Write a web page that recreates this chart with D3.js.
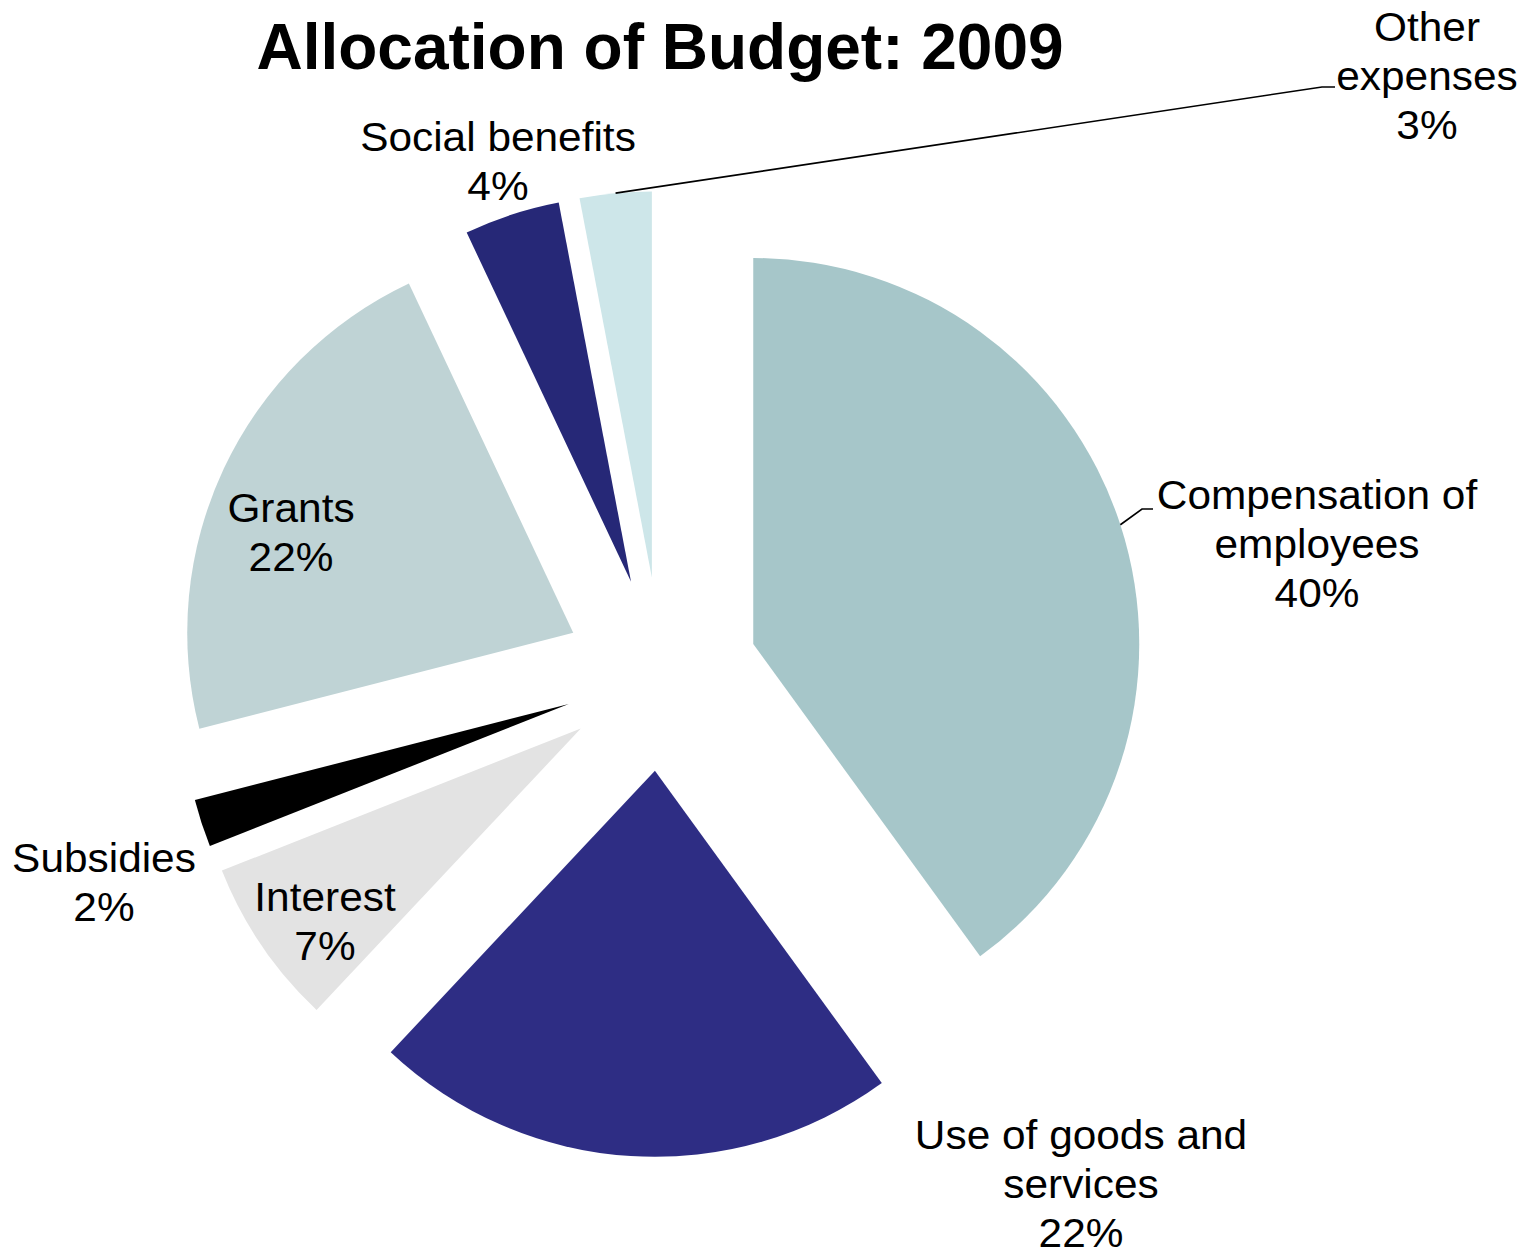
<!DOCTYPE html>
<html>
<head>
<meta charset="utf-8">
<script src="https://cdn.jsdelivr.net/npm/d3@7"></script>
<style>
  html, body { margin: 0; padding: 0; background: #fff; }
  svg { display: block; }
  text { font-family: "Liberation Sans", Arial, sans-serif; fill: #000; }
</style>
</head>
<body>
<svg id="chart" width="1538" height="1251"></svg>
<script>
// Budget shares, 2009 (percent), in clockwise order from 12 o'clock
const categories = [
  "Compensation of employees",
  "Use of goods and services",
  "Interest",
  "Subsidies",
  "Grants",
  "Social benefits",
  "Other expenses"
];
const shares = [40, 22, 7, 2, 22, 4, 3];
const sliceColors = ["#a6c6c9", "#2e2d84", "#e3e3e3", "#000000", "#bfd3d5", "#262877", "#cde6e9"];

// Label text broken into lines
const labelLines = [
  ["Compensation of", "employees"],
  ["Use of goods and", "services"],
  ["Interest"],
  ["Subsidies"],
  ["Grants"],
  ["Social benefits"],
  ["Other", "expenses"]
];

// Label placement: centre x and first-line baseline; optional leader elbow/end
const labelLayout = [
  { x: 1317, y: 509, leader: [[1142, 509], [1153, 509]] },
  { x: 1081, y: 1149 },
  { x: 325,  y: 911 },
  { x: 104,  y: 872 },
  { x: 291,  y: 522 },
  { x: 498,  y: 151 },
  { x: 1427, y: 41,  leader: [[1322, 87], [1335, 87]] }
];

const cx = 661, cy = 674, radius = 386, explode = 97;
const lineH = 49;
const labelStretch = 1.06;

const svg = d3.select("#chart");

svg.append("text")
  .attr("x", 660)
  .attr("y", 69)
  .attr("text-anchor", "middle")
  .style("font-size", "64px")
  .style("font-weight", "bold")
  .text("Allocation of Budget: 2009");

const pie = d3.pie().sort(null).value(d => d.value);
const arc = d3.arc().innerRadius(0).outerRadius(radius);

const data = categories.map((c, i) => ({ name: c, value: shares[i], color: sliceColors[i] }));
const arcs = pie(data);

const g = svg.append("g").attr("transform", `translate(${cx},${cy})`);

function offset(a) {
  const mid = (a.startAngle + a.endAngle) / 2;
  return [Math.sin(mid) * explode, -Math.cos(mid) * explode];
}

g.selectAll("path.slice")
  .data(arcs)
  .join("path")
  .attr("class", "slice")
  .attr("d", arc)
  .attr("fill", d => d.data.color)
  .attr("transform", d => { const [dx, dy] = offset(d); return `translate(${dx},${dy})`; });

// Leader lines start at the outer midpoint of the exploded slice
arcs.forEach((a, i) => {
  const lay = labelLayout[i];
  if (!lay.leader) return;
  const mid = (a.startAngle + a.endAngle) / 2;
  const r = radius + explode;
  const start = [cx + Math.sin(mid) * r, cy - Math.cos(mid) * r];
  svg.append("path")
    .attr("d", d3.line()([start].concat(lay.leader)))
    .attr("fill", "none")
    .attr("stroke", "#000")
    .attr("stroke-width", 1.6);
});

// Labels: category name lines followed by percentage
arcs.forEach((a, i) => {
  const lay = labelLayout[i];
  const lines = labelLines[i].concat([d3.format(".0f")(a.data.value) + "%"]);
  const t = svg.append("text")
    .attr("text-anchor", "middle")
    .attr("transform", `translate(${lay.x},${lay.y}) scale(${labelStretch},1)`)
    .style("font-size", "40px");
  lines.forEach((ln, k) => {
    t.append("tspan")
      .attr("x", 0)
      .attr("y", k * lineH)
      .text(ln);
  });
});
</script>
</body>
</html>
